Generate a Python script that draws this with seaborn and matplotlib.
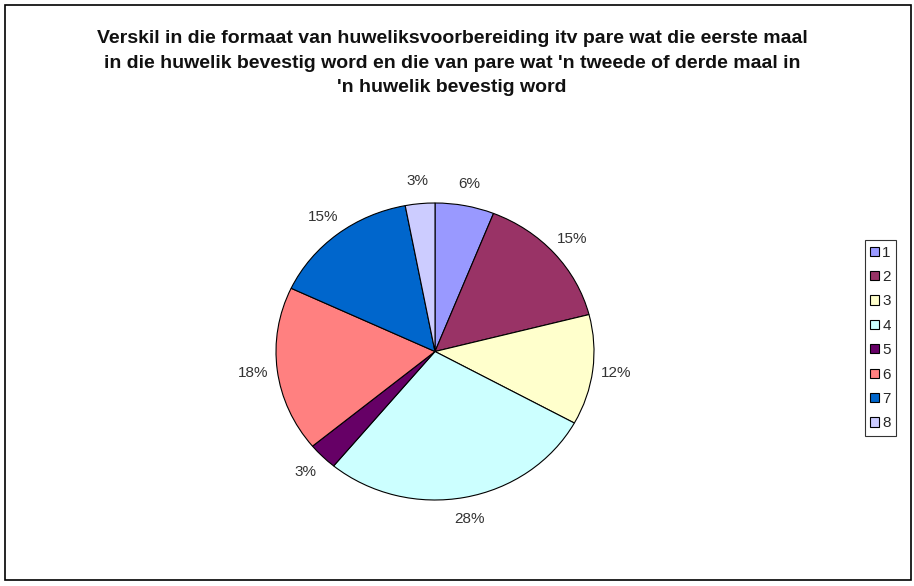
import matplotlib
matplotlib.use("Agg")
import matplotlib.pyplot as plt
import seaborn as sns
from matplotlib.patches import Rectangle

# data
categories = ["1", "2", "3", "4", "5", "6", "7", "8"]
percentages = [6, 15, 12, 28, 3, 18, 15, 3]
colours = ["#9999FF", "#993366", "#FFFFCC", "#CCFFFF",
           "#660066", "#FF8080", "#0066CC", "#CCCCFF"]
title = ("Verskil in die formaat van huweliksvoorbereiding itv pare wat die eerste maal\n"
         "in die huwelik bevestig word en die van pare wat 'n tweede of derde maal in\n"
         "'n huwelik bevestig word")

sns.set_theme(style="white")
plt.rcParams["font.family"] = ["Liberation Sans", "DejaVu Sans"]

fig = plt.figure(figsize=(9.14, 5.86), dpi=100)
fig.patch.set_facecolor("white")

# outer chart border
fig.patches.append(Rectangle((5 / 914, 6 / 586), 906 / 914, 575 / 586,
                             transform=fig.transFigure, fill=False,
                             edgecolor="black", linewidth=1.2))

ax = fig.add_axes([276 / 914, 86 / 586, 318 / 914, 297 / 586])
wedges, texts, autotexts = ax.pie(
    percentages, colors=colours, startangle=90, counterclock=False,
    autopct="%d%%", pctdistance=1.15,
    wedgeprops=dict(edgecolor="black", linewidth=0.8),
    textprops=dict(fontsize=11, color="#333333"))
ax.set_aspect("auto")
ax.set_xlim(-1, 1)
ax.set_ylim(-1, 1)

fig.text(452 / 914, 1 - 63 / 586, title, ha="center", va="center",
         fontsize=14, fontweight="bold", linespacing=1.56,
         color="#111111")

leg = fig.legend(wedges, categories, loc="center",
                 bbox_to_anchor=(880.5 / 914, 1 - 338 / 586),
                 fontsize=11, frameon=True, fancybox=False,
                 handlelength=0.55, handleheight=0.55, handletextpad=0.25,
                 labelspacing=0.68, borderpad=0.35, borderaxespad=0)
leg.get_frame().set_edgecolor("black")
leg.get_frame().set_linewidth(0.8)

plt.savefig("out.png", dpi=100)
plt.close("all")
